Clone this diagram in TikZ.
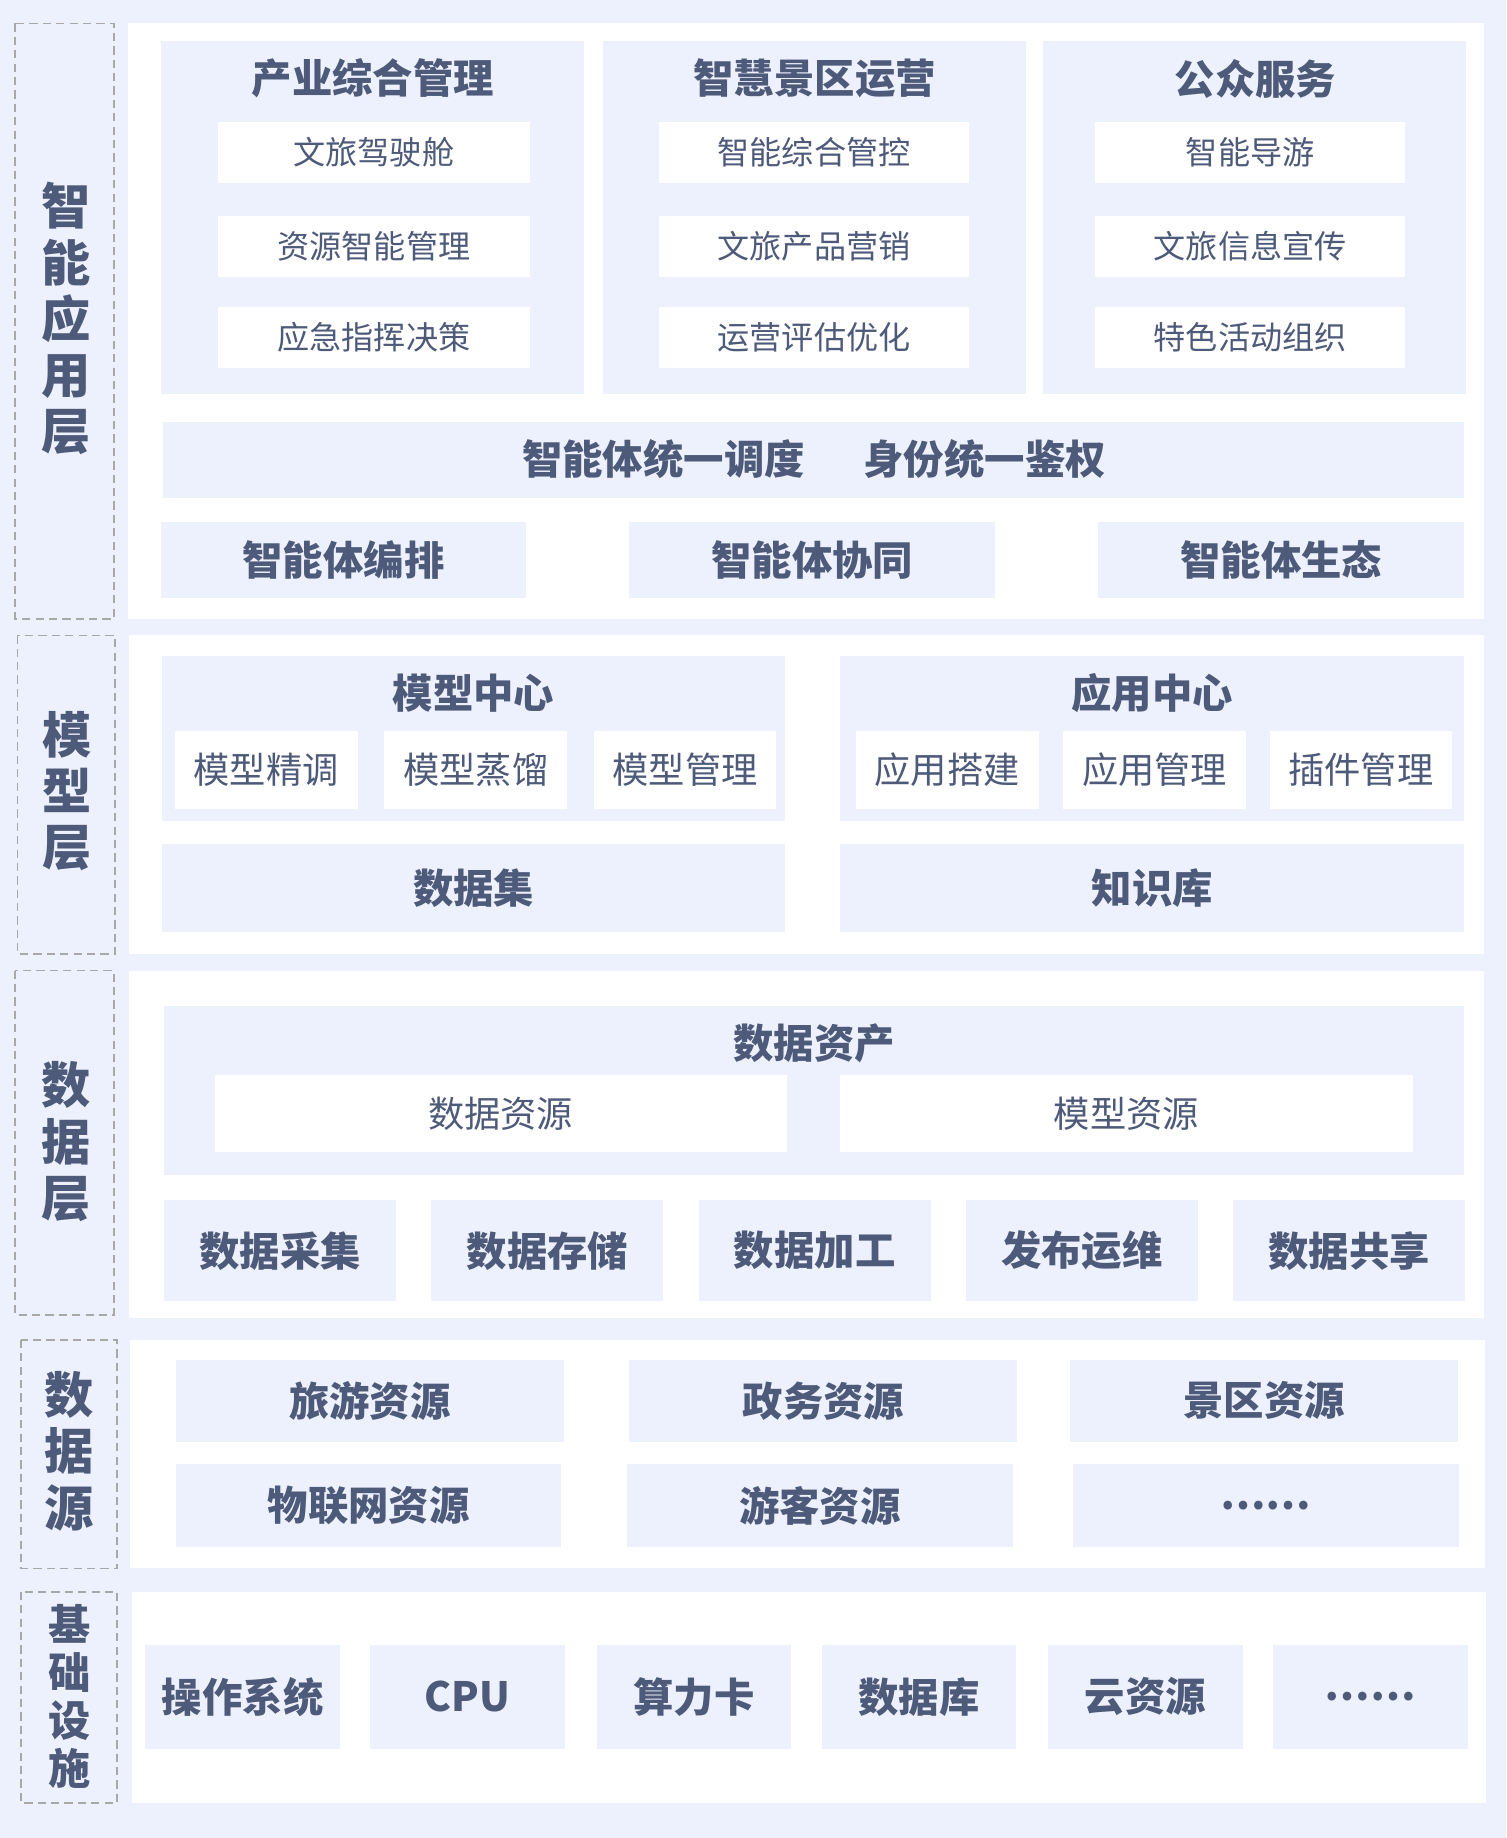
\documentclass[tikz,border=0pt]{standalone}
\usepackage{fontspec}
\setmainfont{Noto Sans CJK SC}
\usepackage{tikz}
\usetikzlibrary{calc}
\definecolor{panelBlue}{RGB}{237,241,253}
\definecolor{textSlate}{RGB}{78,90,122}
\definecolor{dashGray}{RGB}{168,168,168}
\tikzset{
   box fill/.style={fill=panelBlue},
   white fill/.style={fill=white},
   layer frame/.style={draw=dashGray,dash pattern=on 4pt off 2.5pt,line width=0.8pt},
   main node/.style={text=textSlate,font=\bfseries\fontsize{19.6}{22}\selectfont,inner sep=0pt},
   item node/.style={text=textSlate,font=\fontsize{15.6}{18}\selectfont,inner sep=0pt},
   model item node/.style={item node,font=\fontsize{17.6}{20}\selectfont},
   layer node/.style={text=textSlate,font=\bfseries\fontsize{23.9}{27.3}\selectfont,align=center,inner sep=0pt},
   base node/.style={layer node,font=\bfseries\fontsize{20.5}{23.3}\selectfont}
}
\begin{document}
\begin{tikzpicture}[x=0.02cm,y=-0.02cm]
\fill[box fill] (0,0) rectangle (1285,1568);
\useasboundingbox (0,0) rectangle (1285,1568);

% application layer
\draw[layer frame] (13,20) rectangle (97,528);
\node[layer node] (appLayer) at (56,272) {智\\能\\应\\用\\层};
\fill[white fill] (109,20) rectangle (1266,528);

\fill[box fill] (137,35) rectangle (498,336);
\node[main node] (industry) at (318,67) {产业综合管理};
\fill[white fill] (186,104) rectangle (452,156);
\node[item node] (cockpit) at (319,130) {文旅驾驶舱};
\fill[white fill] (186,184) rectangle (452,236);
\node[item node] (resMgmt) at (319,210) {资源智能管理};
\fill[white fill] (186,262) rectangle (452,314);
\node[item node] (emergency) at (319,288) {应急指挥决策};

\fill[box fill] (514,35) rectangle (875,336);
\node[main node] (scenic) at (695,67) {智慧景区运营};
\fill[white fill] (562,104) rectangle (827,156);
\node[item node] (control) at (694.5,130) {智能综合管控};
\fill[white fill] (562,184) rectangle (827,236);
\node[item node] (marketing) at (694.5,210) {文旅产品营销};
\fill[white fill] (562,262) rectangle (827,314);
\node[item node] (evaluation) at (694.5,288) {运营评估优化};

\fill[box fill] (890,35) rectangle (1251,336);
\node[main node] (publicSrv) at (1071,67) {公众服务};
\fill[white fill] (934,104) rectangle (1199,156);
\node[item node] (guide) at (1066.5,130) {智能导游};
\fill[white fill] (934,184) rectangle (1199,236);
\node[item node] (promo) at (1066.5,210) {文旅信息宣传};
\fill[white fill] (934,262) rectangle (1199,314);
\node[item node] (events) at (1066.5,288) {特色活动组织};

\fill[box fill] (139,360) rectangle (1249,425);
\node[main node] (schedule) at (566,392) {智能体统一调度};
\node[main node] (auth) at (840,392) {身份统一鉴权};

\fill[box fill] (137,445) rectangle (449,510);
\node[main node] (orchestrate) at (293,477.5) {智能体编排};
\fill[box fill] (537,445) rectangle (849,510);
\node[main node] (cooperate) at (693,477.5) {智能体协同};
\fill[box fill] (937,445) rectangle (1249,510);
\node[main node] (ecology) at (1093,477.5) {智能体生态};

% model layer
\draw[layer frame] (15,542) rectangle (98,814);
\node[layer node] (modelLayer) at (57,675) {模\\型\\层};
\fill[white fill] (110,542) rectangle (1266,814);

\fill[box fill] (138,560) rectangle (670,700);
\node[main node] (modelCenter) at (404,591) {模型中心};
\fill[white fill] (149,624) rectangle (305,690);
\node[model item node] (finetune) at (227,657) {模型精调};
\fill[white fill] (328,624) rectangle (484,690);
\node[model item node] (distill) at (406,657) {模型蒸馏};
\fill[white fill] (507,624) rectangle (662,690);
\node[model item node] (modelMgmt) at (584.5,657) {模型管理};

\fill[box fill] (717,560) rectangle (1249,700);
\node[main node] (appCenter) at (983,591) {应用中心};
\fill[white fill] (730,624) rectangle (886,690);
\node[model item node] (appBuild) at (808,657) {应用搭建};
\fill[white fill] (907,624) rectangle (1063,690);
\node[model item node] (appMgmt) at (985,657) {应用管理};
\fill[white fill] (1083,624) rectangle (1239,690);
\node[model item node] (pluginMgmt) at (1161,657) {插件管理};

\fill[box fill] (138,720) rectangle (670,795);
\node[main node] (dataset) at (404,757.5) {数据集};
\fill[box fill] (717,720) rectangle (1249,795);
\node[main node] (knowledge) at (983,757.5) {知识库};

% data layer
\draw[layer frame] (13,828) rectangle (97,1122);
\node[layer node] (dataLayer) at (56,974) {数\\据\\层};
\fill[white fill] (110,828) rectangle (1266,1124);

\fill[box fill] (140,858) rectangle (1249,1002);
\node[main node] (assets) at (694.5,890) {数据资产};
\fill[white fill] (183,917) rectangle (671,983);
\node[model item node] (dataRes) at (427,950) {数据资源};
\fill[white fill] (717,917) rectangle (1205,983);
\node[model item node] (modelRes) at (961,950) {模型资源};

\fill[box fill] (140,1024) rectangle (338,1110);
\node[main node] (collect) at (239,1067) {数据采集};
\fill[box fill] (368,1024) rectangle (566,1110);
\node[main node] (store) at (467,1067) {数据存储};
\fill[box fill] (596,1024) rectangle (794,1110);
\node[main node] (process) at (695,1067) {数据加工};
\fill[box fill] (824,1024) rectangle (1022,1110);
\node[main node] (publish) at (923,1067) {发布运维};
\fill[box fill] (1052,1024) rectangle (1250,1110);
\node[main node] (share) at (1151,1067) {数据共享};

% data sources
\draw[layer frame] (18,1143) rectangle (100,1338);
\node[layer node] (sourceLayer) at (59,1238) {数\\据\\源};
\fill[white fill] (111,1143) rectangle (1267,1338);

\fill[box fill] (150,1160) rectangle (481,1230);
\node[main node] (tourism) at (315.5,1195) {旅游资源};
\fill[box fill] (537,1160) rectangle (868,1230);
\node[main node] (government) at (702.5,1195) {政务资源};
\fill[box fill] (913,1160) rectangle (1244,1230);
\node[main node] (scenicRes) at (1078.5,1195) {景区资源};
\fill[box fill] (150,1249) rectangle (479,1320);
\node[main node] (iot) at (314.5,1284.5) {物联网资源};
\fill[box fill] (535,1249) rectangle (864,1320);
\node[main node] (visitor) at (699.5,1284.5) {游客资源};
\fill[box fill] (915,1249) rectangle (1245,1320);
\node[main node] (moreSrc) at (1080,1284.5) {……};

% infrastructure
\draw[layer frame] (18,1358) rectangle (100,1538);
\node[base node] (baseLayer) at (59,1447) {基\\础\\设\\施};
\fill[white fill] (113,1358) rectangle (1268,1538);

\fill[box fill] (124,1403) rectangle (290,1492);
\node[main node] (os) at (207,1447.5) {操作系统};
\fill[box fill] (316,1403) rectangle (482,1492);
\node[main node] (cpu) at (399,1447.5) {CPU};
\fill[box fill] (509,1403) rectangle (675,1492);
\node[main node] (gpu) at (592,1447.5) {算力卡};
\fill[box fill] (701,1403) rectangle (867,1492);
\node[main node] (database) at (784,1447.5) {数据库};
\fill[box fill] (894,1403) rectangle (1060,1492);
\node[main node] (cloud) at (977,1447.5) {云资源};
\fill[box fill] (1086,1403) rectangle (1252,1492);
\node[main node] (moreInfra) at (1169,1447.5) {……};

\end{tikzpicture}
\end{document}
